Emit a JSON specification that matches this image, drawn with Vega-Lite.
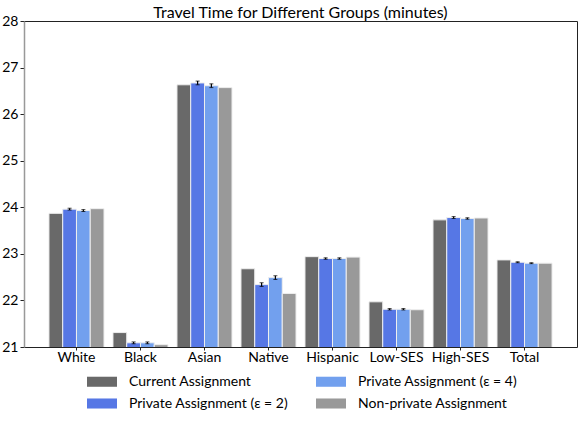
{
  "$schema": "https://vega.github.io/schema/vega-lite/v6.json",
  "width": 553,
  "height": 326,
  "autosize": {"type": "none"},
  "padding": {"left": 24, "top": 21, "right": 5, "bottom": 75},
  "title": {"text": "Travel Time for Different Groups (minutes)", "fontSize": 16, "font": "Lato", "fontWeight": "normal", "color": "#000", "anchor": "middle", "offset": -7},
  "config": {
    "view": {"stroke": "#222", "strokeWidth": 1},
    "font": "Lato",
    "axis": {"labelFont": "Lato", "labelColor": "#000", "tickColor": "#222"}
  },
  "data": {"values": [
    {"group": "White", "series": "Current Assignment", "value": 23.87},
    {"group": "White", "series": "Private Assignment (ε = 2)", "value": 23.96, "lo": 23.94, "hi": 23.98},
    {"group": "White", "series": "Private Assignment (ε = 4)", "value": 23.93, "lo": 23.91, "hi": 23.95},
    {"group": "White", "series": "Non-private Assignment", "value": 23.97},
    {"group": "Black", "series": "Current Assignment", "value": 21.31},
    {"group": "Black", "series": "Private Assignment (ε = 2)", "value": 21.09, "lo": 21.07, "hi": 21.11},
    {"group": "Black", "series": "Private Assignment (ε = 4)", "value": 21.09, "lo": 21.07, "hi": 21.11},
    {"group": "Black", "series": "Non-private Assignment", "value": 21.05},
    {"group": "Asian", "series": "Current Assignment", "value": 26.63},
    {"group": "Asian", "series": "Private Assignment (ε = 2)", "value": 26.67, "lo": 26.63, "hi": 26.71},
    {"group": "Asian", "series": "Private Assignment (ε = 4)", "value": 26.61, "lo": 26.57, "hi": 26.65},
    {"group": "Asian", "series": "Non-private Assignment", "value": 26.57},
    {"group": "Native", "series": "Current Assignment", "value": 22.68},
    {"group": "Native", "series": "Private Assignment (ε = 2)", "value": 22.34, "lo": 22.30, "hi": 22.38},
    {"group": "Native", "series": "Private Assignment (ε = 4)", "value": 22.49, "lo": 22.45, "hi": 22.53},
    {"group": "Native", "series": "Non-private Assignment", "value": 22.15},
    {"group": "Hispanic", "series": "Current Assignment", "value": 22.94},
    {"group": "Hispanic", "series": "Private Assignment (ε = 2)", "value": 22.90, "lo": 22.885, "hi": 22.915},
    {"group": "Hispanic", "series": "Private Assignment (ε = 4)", "value": 22.90, "lo": 22.885, "hi": 22.915},
    {"group": "Hispanic", "series": "Non-private Assignment", "value": 22.93},
    {"group": "Low-SES", "series": "Current Assignment", "value": 21.97},
    {"group": "Low-SES", "series": "Private Assignment (ε = 2)", "value": 21.81, "lo": 21.795, "hi": 21.825},
    {"group": "Low-SES", "series": "Private Assignment (ε = 4)", "value": 21.81, "lo": 21.795, "hi": 21.825},
    {"group": "Low-SES", "series": "Non-private Assignment", "value": 21.80},
    {"group": "High-SES", "series": "Current Assignment", "value": 23.73},
    {"group": "High-SES", "series": "Private Assignment (ε = 2)", "value": 23.78, "lo": 23.76, "hi": 23.80},
    {"group": "High-SES", "series": "Private Assignment (ε = 4)", "value": 23.76, "lo": 23.745, "hi": 23.775},
    {"group": "High-SES", "series": "Non-private Assignment", "value": 23.77},
    {"group": "Total", "series": "Current Assignment", "value": 22.87},
    {"group": "Total", "series": "Private Assignment (ε = 2)", "value": 22.82, "lo": 22.81, "hi": 22.83},
    {"group": "Total", "series": "Private Assignment (ε = 4)", "value": 22.80, "lo": 22.79, "hi": 22.81},
    {"group": "Total", "series": "Non-private Assignment", "value": 22.80}
  ]},
  "encoding": {
    "x": {"field": "group", "type": "nominal", "sort": null,
      "scale": {"paddingInner": 0.14, "paddingOuter": 0.39},
      "axis": {"title": null, "labelAngle": 0, "labelFontSize": 14, "domain": false, "tickSize": 3, "labelPadding": 0}},
    "xOffset": {"field": "series", "type": "nominal",
      "scale": {"domain": ["Current Assignment", "Private Assignment (ε = 2)", "Private Assignment (ε = 4)", "Non-private Assignment"], "paddingInner": 0, "paddingOuter": 0}}
  },
  "layer": [
    {
      "mark": {"type": "bar", "stroke": "#eeeeee", "strokeWidth": 1, "clip": true},
      "encoding": {
        "y": {"field": "value", "type": "quantitative",
          "scale": {"domain": [21, 28], "zero": false, "nice": false},
          "axis": {"title": null, "values": [21, 22, 23, 24, 25, 26, 27, 28], "grid": false, "labelFontSize": 14, "tickSize": 4, "labelPadding": 2, "domainColor": "#999999", "domainWidth": 1.5}},
        "color": {"field": "series", "type": "nominal",
          "scale": {"domain": ["Current Assignment", "Private Assignment (ε = 2)", "Private Assignment (ε = 4)", "Non-private Assignment"],
                    "range": ["#696969", "#5677e5", "#72a0ee", "#999999"]},
          "legend": {"title": null, "orient": "none", "legendX": 70.5, "legendY": 353, "columns": 2, "columnPadding": 27, "rowPadding": 7,
            "symbolType": "M-2,-0.67H2V0.67H-2Z", "symbolSize": 225, "symbolStrokeWidth": 0, "symbolOpacity": 1,
            "labelFontSize": 14, "labelFont": "Lato", "labelColor": "#000", "labelOffset": 19.5, "padding": 0, "labelLimit": 300}}
      }
    },
    {
      "mark": {"type": "rule", "color": "#000", "strokeWidth": 1.2},
      "encoding": {
        "y": {"field": "lo", "type": "quantitative"},
        "y2": {"field": "hi"}
      }
    },
    {
      "mark": {"type": "tick", "color": "#000", "size": 4, "thickness": 1},
      "encoding": {"y": {"field": "lo", "type": "quantitative"}}
    },
    {
      "mark": {"type": "tick", "color": "#000", "size": 4, "thickness": 1},
      "encoding": {"y": {"field": "hi", "type": "quantitative"}}
    }
  ]
}
